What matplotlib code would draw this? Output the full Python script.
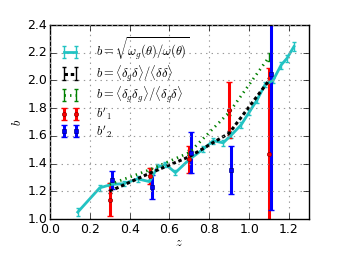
import matplotlib
matplotlib.use("Agg")
import matplotlib.pyplot as plt
import numpy as np

plt.style.use("classic")
plt.rcParams["mathtext.fontset"] = "cm"
plt.rcParams["font.size"] = 9

# cyan: sqrt(w_g / w)
z_w = [0.14, 0.25, 0.31, 0.37, 0.44, 0.50, 0.54, 0.58, 0.63, 0.70, 0.77, 0.82, 0.87, 0.91, 0.96, 1.00, 1.04, 1.08, 1.12, 1.16, 1.19, 1.225]
b_w = [1.05, 1.225, 1.25, 1.255, 1.29, 1.27, 1.375, 1.395, 1.335, 1.43, 1.505, 1.565, 1.55, 1.605, 1.68, 1.77, 1.86, 1.97, 2.00, 2.11, 2.16, 2.245]
e_w = [0.03, 0.02, 0.02, 0.02, 0.02, 0.02, 0.02, 0.02, 0.02, 0.02, 0.02, 0.02, 0.02, 0.02, 0.02, 0.02, 0.02, 0.02, 0.02, 0.025, 0.025, 0.03]

z_c = [0.3, 0.5, 0.7, 0.9, 1.1]
# black: <d_g d>/<d d>
b_k = [1.20, 1.33, 1.45, 1.62, 2.00]
e_k = [0.01, 0.01, 0.015, 0.015, 0.02]
# green: <d_g d_g>/<d_g d>
b_g = [1.25, 1.355, 1.48, 1.77, 2.17]
e_g = [0.01, 0.01, 0.015, 0.02, 0.03]

# red b'1
z_r = [0.3, 0.5, 0.7, 0.9, 1.1]
b_r = [1.14, 1.31, 1.43, 1.787, 1.47]
e_r = [0.12, 0.06, 0.10, 0.20, 0.62]
# blue b'2
z_b = [0.31, 0.51, 0.71, 0.91, 1.11]
b_b = [1.282, 1.233, 1.479, 1.354, 2.045]
e_b = [0.065, 0.087, 0.147, 0.175, 0.98]

fig = plt.figure(figsize=(3.44, 2.58), dpi=100, facecolor="white")
ax = fig.add_axes([0.145, 0.151, 0.753, 0.752])

cyan = "#22c3c3"
ax.errorbar(z_w, b_w, yerr=e_w, color=cyan, lw=2, elinewidth=1, capsize=1.5, capthick=1,
            label=r"$b=\sqrt{\omega_g(\theta)/\omega(\theta)}$")
ax.errorbar(z_c, b_k, yerr=e_k, color="k", ls="--", lw=2.2, dashes=(2.5, 2), elinewidth=1,
            capsize=1.5, capthick=1,
            label=r"$b=\langle\delta_g\delta\rangle/\langle\delta\delta\rangle$")
ax.errorbar(z_c, b_g, yerr=e_g, color="g", ls=":", lw=2, elinewidth=1, capsize=1.5, capthick=1,
            label=r"$b=\langle\delta_g\delta_g\rangle/\langle\delta_g\delta\rangle$")
ax.errorbar(z_r, b_r, yerr=e_r, color="r", ls="none", marker="o", ms=3,
            elinewidth=2.2, capsize=2, capthick=1, ecolor="r", mec="darkred",
            label=r"$b'_1$")
ax.errorbar(z_b, b_b, yerr=e_b, color="b", ls="none", marker="s", ms=3.5,
            elinewidth=2.2, capsize=2, capthick=1, ecolor="b", mec="darkblue",
            label=r"$b'_2$")

ax.set_xlim(0, 1.3)
ax.set_ylim(1.0, 2.4)
ax.set_xticks(np.arange(0, 1.21, 0.2))
ax.set_yticks(np.arange(1.0, 2.41, 0.2))
ax.tick_params(axis="y", pad=2)
ax.tick_params(axis="x", pad=3)
ax.grid(True, color="0.6", ls=":", lw=0.8)
ax.set_xlabel(r"$z$", labelpad=0)
ax.set_ylabel(r"$b$", labelpad=2)
ax.legend(loc="upper left", frameon=False, numpoints=2, fontsize=9,
          handlelength=1.5, handletextpad=1.3, labelspacing=0.05,
          borderaxespad=0.45)

fig.savefig("out.png", dpi=100, facecolor="white")
